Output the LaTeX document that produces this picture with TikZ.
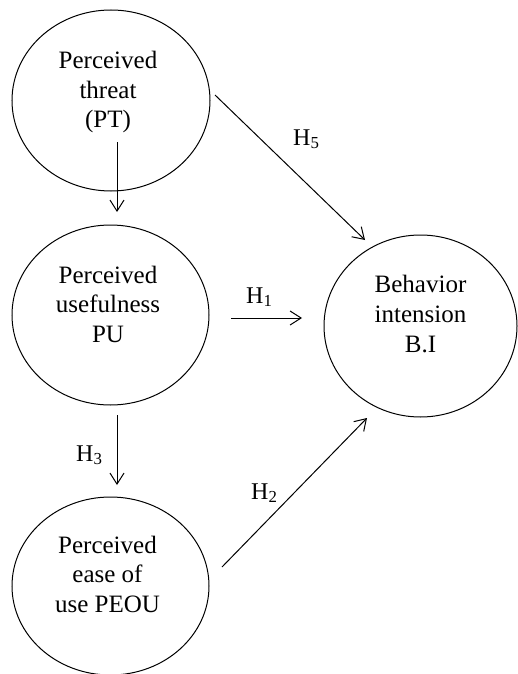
\documentclass[tikz,border=0pt]{standalone}
\usepackage{fontspec}
\setmainfont{Liberation Serif}
\usetikzlibrary{shapes.geometric,arrows.meta}
\tikzset{
  ell/.style={draw, ellipse, line width=1pt, inner sep=0pt},
  lbl/.style={align=center, inner sep=0pt, font=\fontsize{25}{29.5}\selectfont},
  hyp/.style={anchor=base west, inner sep=0pt, font=\fontsize{24}{28}\selectfont},
  arr/.style={line width=1pt, -{Straight Barb[length=11pt,width=14pt,line width=1pt]}}
}
\begin{document}
\begin{tikzpicture}[x=1pt,y=-1pt]
\useasboundingbox (0,0) rectangle (517,674);
% ellipses
\node[ell, minimum width=198pt, minimum height=181pt] (PT) at (111,100.5) {};
\node[ell, minimum width=197pt, minimum height=180pt] (PU) at (110.5,315) {};
\node[ell, minimum width=197pt, minimum height=178pt] (PEOU) at (110.5,586) {};
\node[ell, minimum width=193pt, minimum height=182pt] (BI) at (420.5,326) {};
% texts
\node[lbl] (tPT) at (108,92) {Perceived\\threat\\(PT)};
\node[lbl] (tPU) at (108,304) {Perceived\\usefulness\\PU};
\node[lbl] (tPEOU) at (107.5,574) {Perceived\\ease of\\use PEOU};
\node[lbl] (tBI) at (420.5,314) {Behavior\\intension\\B.I};
% arrow end coordinates
\coordinate (a1s) at (117,142);
\coordinate (a1e) at (117,212);
\coordinate (a5s) at (215,95);
\coordinate (a5e) at (365,240);
\coordinate (h1s) at (231,318);
\coordinate (h1e) at (302,318);
\coordinate (a3s) at (117,415);
\coordinate (a3e) at (117,485);
\coordinate (a2s) at (222,567);
\coordinate (a2e) at (367,418);
\draw[arr] (a1s) -- (a1e);
\draw[arr] (a5s) -- (a5e);
\draw[arr] (h1s) -- (h1e);
\draw[arr] (a3s) -- (a3e);
\draw[arr] (a2s) -- (a2e);
% hypothesis labels
\node[hyp] (H5) at (293,145) {H\textsubscript{5}};
\node[hyp] (H1) at (246,303) {H\textsubscript{1}};
\node[hyp] (H3) at (76,461) {H\textsubscript{3}};
\node[hyp] (H2) at (251,499) {H\textsubscript{2}};
\end{tikzpicture}
\end{document}
